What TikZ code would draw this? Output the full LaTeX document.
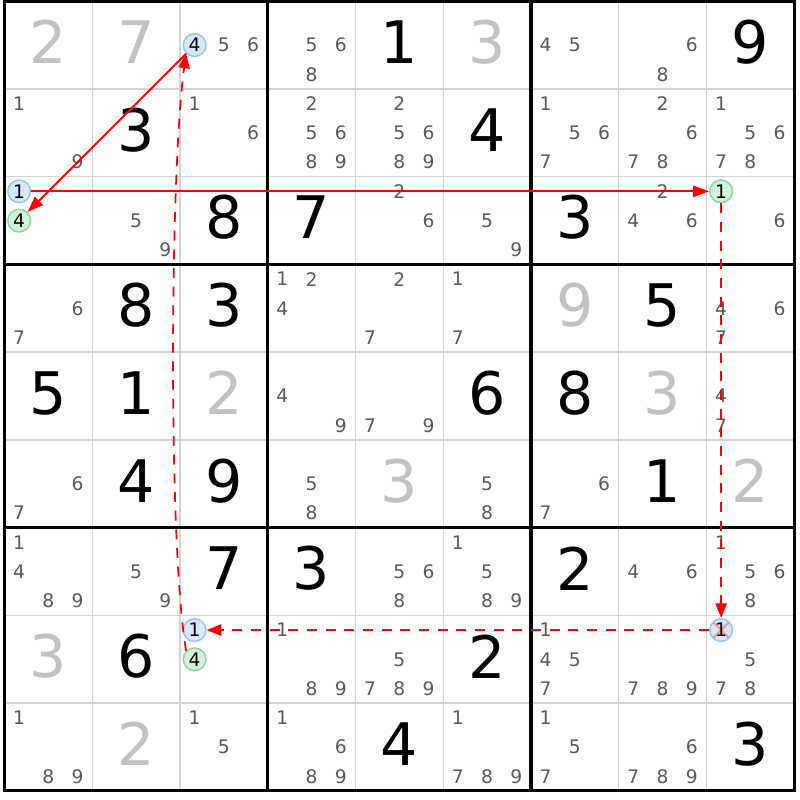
\documentclass[tikz,border=0pt]{standalone}
\usepackage{fontspec}
\setmainfont{DejaVu Sans}
\usetikzlibrary{arrows.meta}
\definecolor{givc}{HTML}{C2C2C2}
\definecolor{candc}{HTML}{5A5A5A}
\definecolor{gridc}{HTML}{D4D4D4}
\definecolor{bfill}{HTML}{D6E8FA}
\definecolor{bdraw}{HTML}{96C6F2}
\definecolor{gfill}{HTML}{D4F1DA}
\definecolor{gdraw}{HTML}{8CD79C}
\definecolor{xcol}{HTML}{F59A9A}
\definecolor{arrc}{HTML}{FF0000}
\def\ox{4.5}
\def\oy{1.2}
\def\cs{87.75}
\newcommand\sdBig[4]{\node[bigdig,text=#4] (v#1#2) at ({\ox+(#2-0.5)*\cs},{\oy+(#1-0.5)*\cs-3}) {#3};}
\newcommand\sdCands[3]{\foreach \d in {#3}{\pgfmathtruncatemacro\cc{mod(\d-1,3)}\pgfmathtruncatemacro\rr{(\d-1)/3}\node[cand] (k#1#2d\d) at ({\ox+(#2-1)*\cs+(\cc+0.5)*\cs/3},{\oy+(#1-1)*\cs+(\rr+0.5)*\cs/3}) {\d};}}
\newcommand\sdCirc[5]{\pgfmathtruncatemacro\cc{mod(#5-1,3)}\pgfmathtruncatemacro\rr{(#5-1)/3}\node[#1] (#2) at ({\ox+(#4-1)*\cs+(\cc+0.5)*\cs/3},{\oy+(#3-1)*\cs+(\rr+0.5)*\cs/3}) {#5};}
\tikzset{
  bigdig/.style={inner sep=0pt, font=\fontsize{44}{44}\selectfont},
  cand/.style={inner sep=0pt, text=candc, font=\fontsize{14}{14}\selectfont},
  circbase/.style={circle, inner sep=0pt, minimum size=17pt, line width=1.1pt, text=black, font=\fontsize{14}{14}\selectfont},
  bcirc/.style={circbase, fill=bfill, draw=bdraw},
  gcirc/.style={circbase, fill=gfill, draw=gdraw},
  xcirc/.style={bcirc, path picture={\draw[xcol, line width=1.6pt] (path picture bounding box.north west) -- (path picture bounding box.south east) (path picture bounding box.north east) -- (path picture bounding box.south west);}},
  thinline/.style={draw=gridc, line width=1.1pt},
  thickline/.style={draw=black, line width=2.3pt},
  solidarr/.style={draw=arrc, line width=1.4pt, -{Triangle[length=12pt,width=8.5pt]}},
  dasharr/.style={draw=arrc, line width=1.3pt, dash pattern=on 7.5pt off 6.5pt, -{Triangle[length=11pt,width=8.5pt]}}
}
\begin{document}
\begin{tikzpicture}[x=0.75pt,y=-0.75pt]
\useasboundingbox (0,0) rectangle (800,800);
\fill[white] (0,0) rectangle (800,800);
% grid
\foreach \i in {1,2,4,5,7,8}{
  \draw[thinline] ({\ox+\i*\cs},\oy) -- ({\ox+\i*\cs},{\oy+9*\cs});
  \draw[thinline] (\ox,{\oy+\i*\cs}) -- ({\ox+9*\cs},{\oy+\i*\cs});
}
\foreach \i in {0,3,6,9}{
  \draw[thickline] ({\ox+\i*\cs},{\oy-1.15}) -- ({\ox+\i*\cs},{\oy+9*\cs+1.15});
  \draw[thickline] ({\ox-1.15},{\oy+\i*\cs}) -- ({\ox+9*\cs+1.15},{\oy+\i*\cs});
}
% row 1
\sdBig{1}{1}{2}{givc}\sdBig{1}{2}{7}{givc}\sdCands{1}{3}{5,6}\sdCands{1}{4}{5,6,8}
\sdBig{1}{5}{1}{black}\sdBig{1}{6}{3}{givc}\sdCands{1}{7}{4,5}\sdCands{1}{8}{6,8}\sdBig{1}{9}{9}{black}
% row 2
\sdCands{2}{1}{1,9}\sdBig{2}{2}{3}{black}\sdCands{2}{3}{1,6}\sdCands{2}{4}{2,5,6,8,9}
\sdCands{2}{5}{2,5,6,8,9}\sdBig{2}{6}{4}{black}\sdCands{2}{7}{1,5,6,7}\sdCands{2}{8}{2,6,7,8}\sdCands{2}{9}{1,5,6,7,8}
% row 3
\sdCands{3}{2}{5,9}\sdBig{3}{3}{8}{black}\sdBig{3}{4}{7}{black}\sdCands{3}{5}{2,6}
\sdCands{3}{6}{5,9}\sdBig{3}{7}{3}{black}\sdCands{3}{8}{2,4,6}\sdCands{3}{9}{6}
% row 4
\sdCands{4}{1}{6,7}\sdBig{4}{2}{8}{black}\sdBig{4}{3}{3}{black}\sdCands{4}{4}{1,2,4}
\sdCands{4}{5}{2,7}\sdCands{4}{6}{1,7}\sdBig{4}{7}{9}{givc}\sdBig{4}{8}{5}{black}\sdCands{4}{9}{4,6,7}
% row 5
\sdBig{5}{1}{5}{black}\sdBig{5}{2}{1}{black}\sdBig{5}{3}{2}{givc}\sdCands{5}{4}{4,9}
\sdCands{5}{5}{7,9}\sdBig{5}{6}{6}{black}\sdBig{5}{7}{8}{black}\sdBig{5}{8}{3}{givc}\sdCands{5}{9}{4,7}
% row 6
\sdCands{6}{1}{6,7}\sdBig{6}{2}{4}{black}\sdBig{6}{3}{9}{black}\sdCands{6}{4}{5,8}
\sdBig{6}{5}{3}{givc}\sdCands{6}{6}{5,8}\sdCands{6}{7}{6,7}\sdBig{6}{8}{1}{black}\sdBig{6}{9}{2}{givc}
% row 7
\sdCands{7}{1}{1,4,8,9}\sdCands{7}{2}{5,9}\sdBig{7}{3}{7}{black}\sdBig{7}{4}{3}{black}
\sdCands{7}{5}{5,6,8}\sdCands{7}{6}{1,5,8,9}\sdBig{7}{7}{2}{black}\sdCands{7}{8}{4,6}\sdCands{7}{9}{1,5,6,8}
% row 8
\sdBig{8}{1}{3}{givc}\sdBig{8}{2}{6}{black}\sdCands{8}{4}{1,8,9}\sdCands{8}{5}{5,7,8,9}
\sdBig{8}{6}{2}{black}\sdCands{8}{7}{1,4,5,7}\sdCands{8}{8}{7,8,9}\sdCands{8}{9}{5,7,8}
% row 9
\sdCands{9}{1}{1,8,9}\sdBig{9}{2}{2}{givc}\sdCands{9}{3}{1,5}\sdCands{9}{4}{1,6,8,9}
\sdBig{9}{5}{4}{black}\sdCands{9}{6}{1,7,8,9}\sdCands{9}{7}{1,5,7}\sdCands{9}{8}{6,7,8,9}\sdBig{9}{9}{3}{black}
% highlighted candidates
\sdCirc{bcirc}{b13}{1}{3}{4}
\sdCirc{bcirc}{b31}{3}{1}{1}
\sdCirc{gcirc}{g31}{3}{1}{4}
\sdCirc{gcirc}{g39}{3}{9}{1}
\sdCirc{bcirc}{b83}{8}{3}{1}
\sdCirc{gcirc}{g83}{8}{3}{4}
\sdCirc{xcirc}{b89}{8}{9}{1}
% chain
\draw[solidarr] (b13) -- (g31);
\draw[solidarr] (b31) -- (g39);
\draw[dasharr] (g39) -- (b89);
\draw[dasharr] (b89) -- (b83);
\draw[dasharr] (g83.north west) .. controls (168,545) and (170,170) .. (b13.south west);
\end{tikzpicture}
\end{document}
